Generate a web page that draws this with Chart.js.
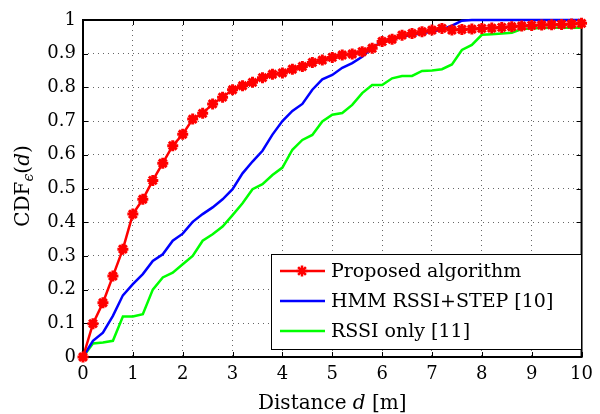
<!DOCTYPE html>
<html>
<head>
<meta charset="utf-8">
<script src="https://cdn.jsdelivr.net/npm/chart.js@4.4.0/dist/chart.umd.min.js"></script>
<style>
    html, body { margin: 0; padding: 0; background: #fff; }
</style>
</head>
<body>
<canvas id="myChart" width="600" height="414"></canvas>
<script>
// ============================================================================
// データ (distance [m] / CDF)
// ============================================================================

const distances = [
    0, 0.2, 0.4, 0.6, 0.8, 1, 1.2, 1.4, 1.6, 1.8,
    2, 2.2, 2.4, 2.6, 2.8, 3, 3.2, 3.4, 3.6, 3.8,
    4, 4.2, 4.4, 4.6, 4.8, 5, 5.2, 5.4, 5.6, 5.8,
    6, 6.2, 6.4, 6.6, 6.8, 7, 7.2, 7.4, 7.6, 7.8,
    8, 8.2, 8.4, 8.6, 8.8, 9, 9.2, 9.4, 9.6, 9.8, 10
];

const proposed = [
    0, 0.099, 0.161, 0.24, 0.32, 0.424, 0.468, 0.524, 0.575, 0.627,
    0.661, 0.706, 0.723, 0.751, 0.771, 0.793, 0.805, 0.815, 0.829, 0.839,
    0.843, 0.854, 0.862, 0.874, 0.881, 0.889, 0.896, 0.899, 0.906, 0.916,
    0.936, 0.943, 0.955, 0.96, 0.965, 0.97, 0.975, 0.97, 0.972, 0.973,
    0.975, 0.976, 0.978, 0.98, 0.982, 0.984, 0.985, 0.986, 0.987, 0.988, 0.99
];

const hmmStep = [
    0, 0.048, 0.072, 0.122, 0.183, 0.216, 0.246, 0.285, 0.305, 0.345,
    0.366, 0.401, 0.424, 0.444, 0.468, 0.498, 0.545, 0.58, 0.612, 0.66,
    0.7, 0.73, 0.751, 0.793, 0.824, 0.837, 0.858, 0.872, 0.891, 0.918,
    0.935, 0.943, 0.951, 0.955, 0.961, 0.966, 0.972, 0.983, 0.998, 1,
    1, 1, 1, 1, 1, 1, 1, 1, 1, 1, 1
];

const rssiOnly = [
    0, 0.04, 0.043, 0.048, 0.12, 0.12, 0.127, 0.2, 0.236, 0.25,
    0.275, 0.3, 0.345, 0.364, 0.387, 0.421, 0.456, 0.498, 0.513, 0.54,
    0.562, 0.615, 0.644, 0.659, 0.699, 0.719, 0.724, 0.748, 0.783, 0.807,
    0.807, 0.827, 0.834, 0.834, 0.849, 0.85, 0.854, 0.868, 0.911, 0.926,
    0.956, 0.958, 0.96, 0.962, 0.973, 0.975, 0.976, 0.977, 0.977, 0.977, 0.977
];

const xTicks = [0, 1, 2, 3, 4, 5, 6, 7, 8, 9, 10];
const yTicks = [0, 0.1, 0.2, 0.3, 0.4, 0.5, 0.6, 0.7, 0.8, 0.9, 1];
const yTickLabels = ["0", "0.1", "0.2", "0.3", "0.4", "0.5", "0.6", "0.7", "0.8", "0.9", "1"];

const seriesNames = ["Proposed algorithm", "HMM RSSI+STEP [10]", "RSSI only [11]"];

const FONT = "DejaVu Serif";

const toPoints = (ys) => distances.map((x, i) => ({ x: x, y: ys[i] }));


// ============================================================================
// 枠・内側の目盛り線・軸タイトル・凡例
// ============================================================================

const framePlugin = {
    id: "frame",
    beforeDatasetsDraw(chart) {
        const { ctx, chartArea: a, scales } = chart;
        ctx.save();
        ctx.strokeStyle = "#000";
        ctx.lineWidth = 1;
        ctx.beginPath();
        xTicks.forEach((v) => {
            const px = Math.round(scales.x.getPixelForValue(v)) + 0.5;
            ctx.moveTo(px, a.bottom); ctx.lineTo(px, a.bottom - 5);
            ctx.moveTo(px, a.top); ctx.lineTo(px, a.top + 5);
        });
        yTicks.forEach((v) => {
            const py = Math.round(scales.y.getPixelForValue(v)) + 0.5;
            ctx.moveTo(a.left, py); ctx.lineTo(a.left + 5, py);
            ctx.moveTo(a.right, py); ctx.lineTo(a.right - 5, py);
        });
        ctx.stroke();
        ctx.lineWidth = 2;
        ctx.strokeRect(a.left, a.top, a.right - a.left, a.bottom - a.top);
        ctx.restore();
    },
    afterDraw(chart) {
        const { ctx, chartArea: a } = chart;
        ctx.save();
        ctx.fillStyle = "#000";

        // x軸タイトル
        ctx.textBaseline = "alphabetic";
        const parts = [
            { t: "Distance ", f: `20px "${FONT}"` },
            { t: "d", f: `italic 20px "${FONT}"` },
            { t: " [m]", f: `20px "${FONT}"` },
        ];
        let w = 0;
        parts.forEach((p) => { ctx.font = p.f; w += ctx.measureText(p.t).width; });
        let cx = (a.left + a.right) / 2 - w / 2;
        parts.forEach((p) => {
            ctx.font = p.f;
            ctx.fillText(p.t, cx, 409);
            cx += ctx.measureText(p.t).width;
        });

        // y軸タイトル (CDF_ε(d))
        ctx.save();
        ctx.translate(29, 186);
        ctx.rotate(-Math.PI / 2);
        const yparts = [
            { t: "CDF", f: `20px "${FONT}"`, dy: 0 },
            { t: "ϵ", f: `italic 14px "${FONT}"`, dy: 4 },
            { t: "(", f: `20px "${FONT}"`, dy: 0 },
            { t: "d", f: `italic 20px "${FONT}"`, dy: 0 },
            { t: ")", f: `20px "${FONT}"`, dy: 0 },
        ];
        w = 0;
        yparts.forEach((p) => { ctx.font = p.f; w += ctx.measureText(p.t).width; });
        cx = -w / 2;
        yparts.forEach((p) => {
            ctx.font = p.f;
            ctx.fillText(p.t, cx, p.dy);
            cx += ctx.measureText(p.t).width;
        });
        ctx.restore();

        // 凡例
        const box = { x: 271, y: 254, w: 310, h: 95 };
        ctx.fillStyle = "#fff";
        ctx.fillRect(box.x, box.y, box.w, box.h);
        ctx.strokeStyle = "#000";
        ctx.lineWidth = 1;
        ctx.strokeRect(box.x + 0.5, box.y + 0.5, box.w, box.h);
        const rowY = [271, 301, 331];
        chart.data.datasets.forEach((ds, i) => {
            ctx.strokeStyle = ds.borderColor;
            ctx.lineWidth = ds.borderWidth;
            ctx.beginPath();
            ctx.moveTo(280, rowY[i]);
            ctx.lineTo(325, rowY[i]);
            ctx.stroke();
            if (ds.pointRadius > 0) {
                Chart.helpers.drawPoint(ctx, {
                    pointStyle: ds.pointStyle,
                    radius: ds.pointRadius,
                    borderWidth: ds.pointBorderWidth,
                }, 302, rowY[i]);
            }
            ctx.fillStyle = "#000";
            ctx.font = `19px "${FONT}"`;
            ctx.textBaseline = "middle";
            ctx.fillText(ds.label, 331, rowY[i] + 1);
        });
        ctx.restore();
    },
};


// ============================================================================
// グラフ本体
// ============================================================================

const ctx = document.getElementById("myChart");

new Chart(ctx, {
    type: "line",
    data: {
        datasets: [
            {
                label: seriesNames[0],
                data: toPoints(proposed),
                borderColor: "#ff0000",
                backgroundColor: "#ff0000",
                borderWidth: 2.5,
                pointStyle: "star",
                pointRadius: 5.5,
                pointBorderWidth: 3,
                pointBorderColor: "#ff0000",
            },
            {
                label: seriesNames[1],
                data: toPoints(hmmStep),
                borderColor: "#0000ff",
                borderWidth: 2.5,
                pointRadius: 0,
            },
            {
                label: seriesNames[2],
                data: toPoints(rssiOnly),
                borderColor: "#00ff00",
                borderWidth: 2.5,
                pointRadius: 0,
            },
        ],
    },
    options: {
        responsive: false,
        animation: false,
        events: [],
        clip: false,
        layout: { padding: { top: 20, right: 13, left: 0, bottom: 0 } },
        plugins: {
            legend: { display: false },
            tooltip: { enabled: false },
        },
        scales: {
            x: {
                type: "linear",
                min: 0,
                max: 10,
                afterFit: (s) => { s.height = 57; },
                afterBuildTicks: (s) => { s.ticks = xTicks.map((v) => ({ value: v })); },
                ticks: {
                    color: "#000",
                    font: { family: FONT, size: 18 },
                    padding: 7,
                    maxRotation: 0,
                },
                grid: {
                    drawTicks: false,
                    color: (c) => (c.tick.value === 0 || c.tick.value === 10 ? "rgba(0,0,0,0)" : "#666"),
                    lineWidth: 1,
                },
                border: { display: false, dash: [1, 4] },
            },
            y: {
                min: 0,
                max: 1,
                afterFit: (s) => { s.width = 83; },
                afterBuildTicks: (s) => { s.ticks = yTicks.map((v) => ({ value: v })); },
                ticks: {
                    color: "#000",
                    font: { family: FONT, size: 18 },
                    padding: 7,
                    callback: (v, i) => yTickLabels[i],
                },
                grid: {
                    drawTicks: false,
                    color: (c) => (c.tick.value === 0 || c.tick.value === 1 ? "rgba(0,0,0,0)" : "#666"),
                    lineWidth: 1,
                },
                border: { display: false, dash: [1, 4] },
            },
        },
    },
    plugins: [framePlugin],
});
</script>
</body>
</html>
